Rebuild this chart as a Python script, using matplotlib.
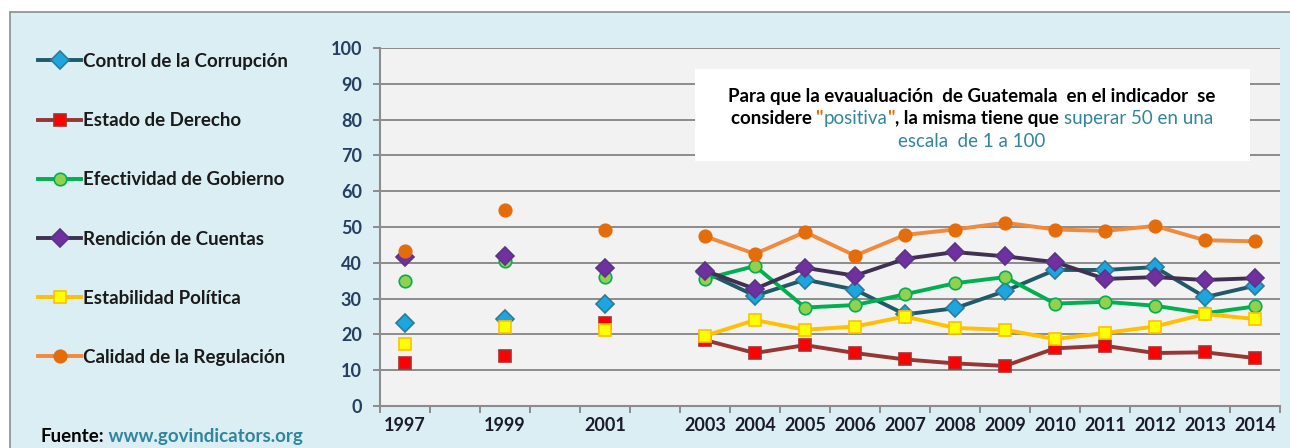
import numpy as np
import matplotlib.pyplot as plt
from matplotlib.patches import Rectangle
from matplotlib.text import Annotation
from matplotlib.offsetbox import TextArea, HPacker, VPacker, AnchoredOffsetbox

nan = np.nan

# categories (1998, 2000, 2002 have no data)
years = ["1997", "", "1999", "", "2001", "", "2003", "2004", "2005", "2006",
         "2007", "2008", "2009", "2010", "2011", "2012", "2013", "2014"]

control = [23.2, nan, 24.3, nan, 28.5, nan, 37.4, 30.8, 35.3, 32.5,
           25.6, 27.3, 32.1, 38.0, 38.0, 38.8, 30.4, 33.6]
estado = [11.9, nan, 14.0, nan, 23.3, nan, 18.4, 14.8, 17.0, 14.8,
          13.0, 11.9, 11.2, 16.1, 16.8, 14.8, 15.0, 13.4]
efectividad = [34.8, nan, 40.4, nan, 36.0, nan, 35.5, 39.1, 27.5, 28.2,
               31.2, 34.3, 36.0, 28.6, 29.1, 28.0, 25.9, 27.8]
rendicion = [41.6, nan, 41.8, nan, 38.6, nan, 37.8, 32.7, 38.6, 36.4,
             41.1, 43.0, 41.8, 40.2, 35.5, 36.0, 35.2, 35.7]
estabilidad = [17.3, nan, 22.2, nan, 21.3, nan, 19.6, 24.0, 21.3, 22.2,
               25.0, 21.8, 21.3, 18.7, 20.4, 22.2, 25.7, 24.3]
calidad = [43.2, nan, 54.7, nan, 49.1, nan, 47.4, 42.5, 48.6, 42.0,
           47.8, 49.3, 51.2, 49.3, 48.9, 50.3, 46.3, 46.0]

series = [
    ("Control de la Corrupción", control, "#215968", "D", "#1CA6E0", "#2C7C98"),
    ("Estado de Derecho", estado, "#953735", "s", "#FF0000", "#A83030"),
    ("Efectividad de Gobierno", efectividad, "#00B050", "o", "#92D050", "#00B050"),
    ("Rendición de Cuentas", rendicion, "#403152", "D", "#7030A0", "#5A3585"),
    ("Estabilidad Política", estabilidad, "#FFC000", "s", "#FFFF00", "#FFC000"),
    ("Calidad de la Regulación", calidad, "#F08A3C", "o", "#E46C0A", "#E46C0A"),
]

plt.rcParams["font.family"] = ["Lato", "DejaVu Sans"]

W, H = 1290, 448
fig = plt.figure(figsize=(W / 100, H / 100), dpi=100, facecolor="white")

# outer chart frame
fig.patches.append(Rectangle((10 / W, -0.1), 1.2, (H - 12) / H + 0.1,
                             transform=fig.transFigure, facecolor="#DBEEF4",
                             edgecolor="#8C8C8C", lw=1.2, zorder=0))

ax = fig.add_axes([380 / W, 1 - 406 / H, 900 / W, 358 / H])
ax.set_zorder(2)
ax.set_facecolor("#F2F2F2")

x = np.arange(len(years))
handles = []
for name, vals, lc, mk, mfc, mec in series:
    ms = 8.8 if mk == "D" else 9
    h, = ax.plot(x, vals, color=lc, lw=2.8, marker=mk, ms=ms,
                 markerfacecolor=mfc, markeredgecolor=mec, markeredgewidth=1.2,
                 label=name)
    handles.append(h)

ax.set_xlim(-0.5, len(years) - 0.5)
ax.set_ylim(0, 100)
ax.set_yticks(np.arange(0, 101, 10))
ax.set_xticks(x)
ax.set_xticklabels(years)
ax.set_xticks(np.arange(-0.5, len(years), 1), minor=True)

ax.yaxis.grid(True, color="#8C8C8C", lw=1.4)
ax.set_axisbelow(True)
for s in ["top", "right"]:
    ax.spines[s].set_visible(False)
for s in ["left", "bottom"]:
    ax.spines[s].set_color("#8C8C8C")
    ax.spines[s].set_linewidth(1.5)

ax.tick_params(axis="x", which="major", length=0, pad=8)
ax.tick_params(axis="x", which="minor", length=5, width=1.4, color="#8C8C8C")
ax.tick_params(axis="y", length=5, width=1.4, color="#8C8C8C", pad=8)
for lab in ax.get_xticklabels():
    lab.set_fontsize(13)
    lab.set_fontweight("bold")
    lab.set_color("#1A1A2A")
for lab in ax.get_yticklabels():
    lab.set_fontsize(13)
    lab.set_fontweight("bold")
    lab.set_color("#243F60")

# legend on the left
fig.legend(handles=handles, loc="upper left",
           bbox_to_anchor=(38 / W, 1 - 53 / H), frameon=False,
           borderpad=0, borderaxespad=0, handlelength=2.3, handletextpad=0.1,
           labelspacing=2.25, prop={"size": 13.5, "weight": "bold"},
           labelcolor="#1A1A1A")

# note box
fig.patches.append(Rectangle((695 / W, 1 - 161 / H), 555 / W, 92 / H,
                             transform=fig.transFigure, facecolor="white",
                             edgecolor="none", zorder=5))

black, orange, teal = "#000000", "#E46C0A", "#31859C"


def seg(txt, color, weight="bold"):
    return TextArea(txt, textprops=dict(color=color, fontsize=13.5,
                                        fontweight=weight))


line1 = HPacker(children=[seg("Para que la evaualuación  de Guatemala  en el indicador  se", black)],
                align="baseline", pad=0, sep=0)
line2 = HPacker(children=[seg("considere ", black), seg('"', orange),
                          seg("positiva", teal, "normal"), seg('"', orange),
                          seg(", la misma tiene que ", black),
                          seg("superar 50 en una", teal, "normal")],
                align="baseline", pad=0, sep=0)
line3 = HPacker(children=[seg("escala  de 1 a 100", teal, "normal")],
                align="baseline", pad=0, sep=0)
box = VPacker(children=[line1, line2, line3], align="center", pad=0, sep=4)
anchored = AnchoredOffsetbox(loc="center", child=box, frameon=False,
                             bbox_to_anchor=(972 / W, 1 - 119 / H),
                             bbox_transform=fig.transFigure, pad=0,
                             borderpad=0)
anchored.set_zorder(6)
fig.add_artist(anchored)

# source
t = fig.text(40 / W, 1 - 436 / H, "Fuente:", fontsize=13.5, fontweight="bold",
             color="#000000", va="center", ha="left", zorder=3)
fig.add_artist(Annotation(" www.govindicators.org", xy=(1, 0.5), xycoords=t,
                          va="center", ha="left", fontsize=13.5,
                          fontweight="bold", color=teal, zorder=3))

fig.savefig("out.png", dpi=100, facecolor=fig.get_facecolor())
